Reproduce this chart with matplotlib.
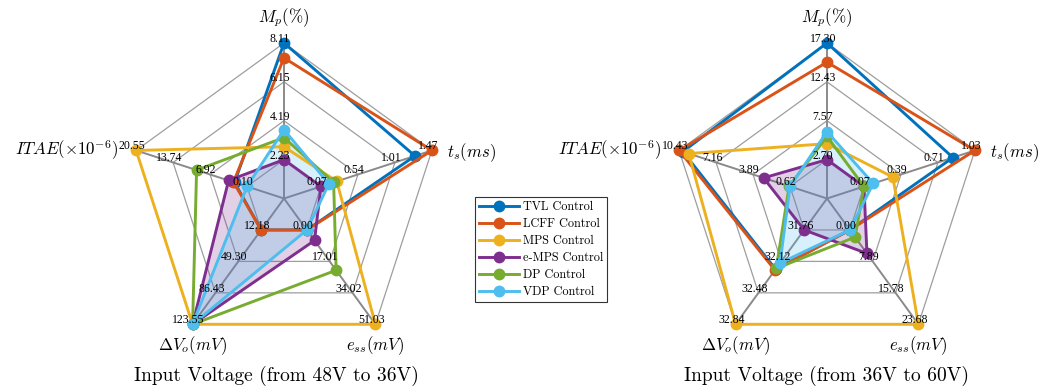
import numpy as np
import matplotlib.pyplot as plt

plt.rcParams['mathtext.fontset'] = 'cm'

# axis order: Mp, ts, ess, dVo, ITAE
axis_labels = [r'$M_p(\%)$', r'$t_s(ms)$', r'$e_{ss}(mV)$',
               r'$\Delta V_o(mV)$', r'$ITAE(\times10^{-6})$']
controllers = ['TVL Control', 'LCFF Control', 'MPS Control',
               'e-MPS Control', 'DP Control', 'VDP Control']
colors = ['#0072BD', '#D95319', '#EDB120', '#7E2F8E', '#77AC30', '#4DBEEE']
filled = ['e-MPS Control', 'VDP Control']

# input voltage 48V -> 36V
tvl_a = [8.11, 1.26, 0.00, 12.18, 2.4]
lcff_a = [7.36, 1.474, 0.00, 12.18, 2.6]
mps_a = [2.88, 0.27, 51.03, 123.55, 20.554]
emps_a = [2.23, 0.07, 5.7, 123.55, 3.5]
dp_a = [3.34, 0.23, 21.8, 123.55, 9.4]
vdp_a = [3.74, 0.17, 0.00, 123.55, 0.10]

# input voltage 36V -> 60V
tvl_b = [17.30, 0.84, 0.00, 32.21, 10.1]
lcff_b = [14.90, 1.03, 0.00, 32.22, 10.43]
mps_b = [4.70, 0.32, 23.676, 32.84, 9.58]
emps_b = [2.70, 0.07, 5.9, 31.76, 2.96]
dp_b = [5.60, 0.07, 1.8, 32.20, 0.70]
vdp_b = [6.20, 0.15, 0.00, 32.14, 0.62]

titles = ['Input Voltage (from 48V to 36V)', 'Input Voltage (from 36V to 60V)']

panels = [
    dict(data=[tvl_a, lcff_a, mps_a, emps_a, dp_a, vdp_a], cx=284, title_x=276),
    dict(data=[tvl_b, lcff_b, mps_b, emps_b, dp_b, vdp_b], cx=827, title_x=826),
]
cy = 198.5
R = 155.5
theta = np.deg2rad(90 - 72 * np.arange(5))

fig = plt.figure(figsize=(10.4, 3.89), dpi=100)
ax = fig.add_axes([0, 0, 1, 1])
ax.set_xlim(0, 1040)
ax.set_ylim(389, 0)
ax.axis('off')

def to_xy(cx, r):
    return cx + r * R * np.cos(theta), cy - r * R * np.sin(theta)

lab_off = [(0, -25), (15, 2), (0, 21), (0, 21), (-18, 0)]
lab_ha = ['center', 'left', 'center', 'center', 'right']

handles = []
for p, title in zip(panels, titles):
    cx = p['cx']
    vals = np.array(p['data'])
    lo = vals.min(axis=0)
    hi = vals.max(axis=0)

    # web
    for k in range(1, 5):
        x, y = to_xy(cx, k / 4)
        ax.plot(np.append(x, x[0]), np.append(y, y[0]), color='#9e9e9e', lw=0.9, zorder=1)
    xo, yo = to_xy(cx, 1.0)
    for i in range(5):
        ax.plot([cx, xo[i]], [cy, yo[i]], color='#8a8a8a', lw=1.4, zorder=1)

    # tick labels along each axis
    for k in range(4):
        x, y = to_xy(cx, (k + 1) / 4)
        for i in range(5):
            v = lo[i] + k * (hi[i] - lo[i]) / 3
            ax.text(x[i] - 4, y[i] - 4, '%.2f' % v, ha='center', va='center',
                    fontsize=8.5, family='Liberation Serif', zorder=10)

    # axis titles
    for i in range(5):
        ax.text(xo[i] + lab_off[i][0], yo[i] + lab_off[i][1], axis_labels[i],
                ha=lab_ha[i], va='center', fontsize=12.2)

    hs = []
    for row, name, c in zip(vals, controllers, colors):
        r = 0.25 + 0.75 * (row - lo) / (hi - lo)
        x, y = to_xy(cx, r)
        if name in filled:
            ax.fill(x, y, color=c, alpha=0.22, lw=0, zorder=2)
        h, = ax.plot(np.append(x, x[0]), np.append(y, y[0]), color=c, lw=2.1,
                     marker='o', markersize=7.5, markevery=range(5), zorder=3, label=name)
        hs.append(h)
    handles = hs

    ax.text(p['title_x'], 376, title, ha='center', va='center', fontsize=14,
            family='cmr10')

leg = fig.legend(handles, controllers, loc='upper left',
                 bbox_to_anchor=(475 / 1040, 1 - 197 / 389), borderaxespad=0,
                 prop={'family': 'cmr10', 'size': 8.8}, frameon=True, fancybox=False,
                 edgecolor='black', handlelength=3.3, labelspacing=0.4,
                 borderpad=0.32, handletextpad=0.3, numpoints=1, markerscale=1)
leg.get_frame().set_linewidth(0.8)

fig.savefig('out.png', dpi=100)
